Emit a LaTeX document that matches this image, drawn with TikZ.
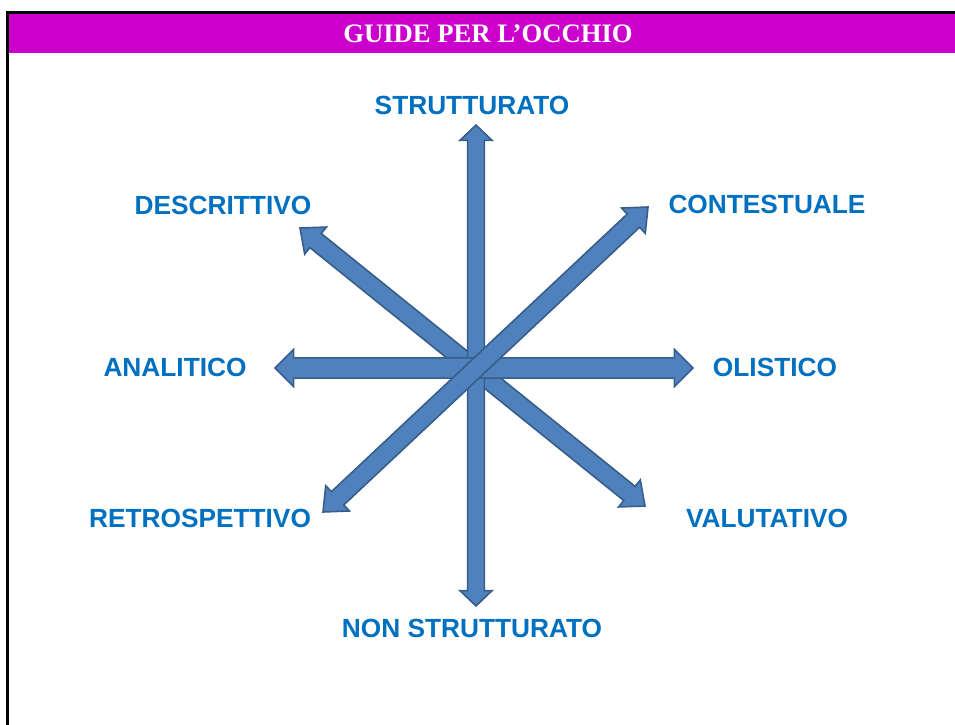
\documentclass[tikz,border=0pt]{standalone}
\usepackage{fontspec}
\setmainfont{Liberation Serif}
\newfontfamily\labfont{Liberation Sans}
\usetikzlibrary{calc}
\definecolor{barmag}{HTML}{CC00CC}
\definecolor{arrfill}{HTML}{4F81BD}
\definecolor{arrline}{HTML}{385D8A}
\definecolor{labblue}{HTML}{0070C0}
% #1 A, #2 B, #3 shaft half width, #4 head half width, #5 head length
\newcommand{\dblblockarrow}[5]{%
  \draw[arrowbody]
    (#1) -- ($(#1)!#5!(#2)!#4!90:(#2)$) -- ($(#1)!#5!(#2)!#3!90:(#2)$)
    -- ($(#2)!#5!(#1)!#3!-90:(#1)$) -- ($(#2)!#5!(#1)!#4!-90:(#1)$)
    -- (#2) -- ($(#2)!#5!(#1)!#4!90:(#1)$) -- ($(#2)!#5!(#1)!#3!90:(#1)$)
    -- ($(#1)!#5!(#2)!#3!-90:(#2)$) -- ($(#1)!#5!(#2)!#4!-90:(#2)$) -- cycle;}
\tikzset{
  arrowbody/.style={fill=arrfill, draw=arrline, line width=1.2pt, line join=miter},
  lab/.style={text=labblue, font=\labfont\bfseries\fontsize{19.7}{22}\selectfont, inner sep=0pt},
  titletext/.style={text=white, font=\bfseries\fontsize{20}{24}\selectfont, inner sep=0pt}
}
\begin{document}
\begin{tikzpicture}[x=0.75pt,y=-0.75pt]
\useasboundingbox (0,0) rectangle (955,724);
% frame and title bar
\fill[barmag] (9,14) rectangle (955,53);
\draw[line width=2.25pt, line cap=rect] (7.5,724) -- (7.5,12.5) -- (955,12.5);
\node[titletext] (title) at (488,33.5) {GUIDE PER L’OCCHIO};
% arrow tips
\coordinate (vt) at (476,125);
\coordinate (vb) at (476,606);
\coordinate (hl) at (275,368);
\coordinate (hr) at (693,368);
\coordinate (dul) at (300,228);
\coordinate (ddr) at (645,506);
\coordinate (aur) at (648,207);
\coordinate (adl) at (323,512);
% arrows
\dblblockarrow{dul}{ddr}{6.8pt}{13pt}{15pt}
\dblblockarrow{vt}{vb}{6.3pt}{12pt}{11.5pt}
\dblblockarrow{hl}{hr}{7.6pt}{14pt}{14pt}
\dblblockarrow{adl}{aur}{6.8pt}{13pt}{15pt}
% labels
\node[lab] (strutt) at (472,105) {STRUTTURATO};
\node[lab] (descr) at (223,205) {DESCRITTIVO};
\node[lab] (cont) at (767,204) {CONTESTUALE};
\node[lab] (anal) at (175,367) {ANALITICO};
\node[lab] (olis) at (775,367) {OLISTICO};
\node[lab] (retro) at (200,518) {RETROSPETTIVO};
\node[lab] (valu) at (767,518) {VALUTATIVO};
\node[lab] (nonstr) at (472,628) {NON STRUTTURATO};
\end{tikzpicture}
\end{document}
